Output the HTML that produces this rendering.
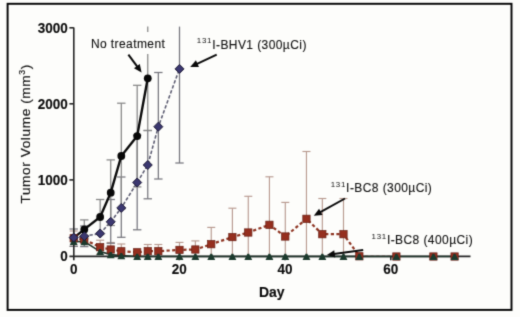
<!DOCTYPE html><html><head><meta charset="utf-8"><style>
html,body{margin:0;padding:0;background:#fdfdfb;}svg{display:block;}
text{font-family:"Liberation Sans",sans-serif;}
</style></head><body>
<svg width="520" height="317" viewBox="0 0 520 317">
<defs><filter id="b" filterUnits="userSpaceOnUse" x="0" y="0" width="520" height="317" color-interpolation-filters="sRGB"><feConvolveMatrix order="3" kernelMatrix="0.0367 0.1915 0.0367 0.1915 1.0000 0.1915 0.0367 0.1915 0.0367" edgeMode="duplicate"/></filter></defs>
<rect x="0" y="0" width="520" height="317" fill="#fdfdfb"/>
<g filter="url(#b)">
<rect x="7.6" y="3.8" width="503.9" height="306.1" fill="none" stroke="#050505" stroke-width="1.95"/>
<line x1="73.7" y1="231.0" x2="73.7" y2="246.3" stroke="#b89a90" stroke-width="1.15"/>
<line x1="69.7" y1="231.0" x2="77.7" y2="231.0" stroke="#b89a90" stroke-width="1.15"/>
<line x1="69.7" y1="246.3" x2="77.7" y2="246.3" stroke="#b89a90" stroke-width="1.15"/>
<line x1="100.15" y1="240.2" x2="100.15" y2="254.2" stroke="#b89a90" stroke-width="1.15"/>
<line x1="96.15" y1="240.2" x2="104.15" y2="240.2" stroke="#b89a90" stroke-width="1.15"/>
<line x1="96.15" y1="254.2" x2="104.15" y2="254.2" stroke="#b89a90" stroke-width="1.15"/>
<line x1="110.73" y1="242.5" x2="110.73" y2="256.4" stroke="#b89a90" stroke-width="1.15"/>
<line x1="106.73" y1="242.5" x2="114.73" y2="242.5" stroke="#b89a90" stroke-width="1.15"/>
<line x1="121.31" y1="244.0" x2="121.31" y2="256.4" stroke="#b89a90" stroke-width="1.15"/>
<line x1="117.31" y1="244.0" x2="125.31" y2="244.0" stroke="#b89a90" stroke-width="1.15"/>
<line x1="147.76" y1="244.5" x2="147.76" y2="256.4" stroke="#b89a90" stroke-width="1.15"/>
<line x1="143.76" y1="244.5" x2="151.76" y2="244.5" stroke="#b89a90" stroke-width="1.15"/>
<line x1="158.34" y1="244.5" x2="158.34" y2="256.4" stroke="#b89a90" stroke-width="1.15"/>
<line x1="154.34" y1="244.5" x2="162.34" y2="244.5" stroke="#b89a90" stroke-width="1.15"/>
<line x1="179.5" y1="242.4" x2="179.5" y2="256.4" stroke="#b89a90" stroke-width="1.15"/>
<line x1="175.5" y1="242.4" x2="183.5" y2="242.4" stroke="#b89a90" stroke-width="1.15"/>
<line x1="195.37" y1="240.9" x2="195.37" y2="256.4" stroke="#b89a90" stroke-width="1.15"/>
<line x1="191.37" y1="240.9" x2="199.37" y2="240.9" stroke="#b89a90" stroke-width="1.15"/>
<line x1="211.24" y1="227.4" x2="211.24" y2="256.4" stroke="#b89a90" stroke-width="1.15"/>
<line x1="207.24" y1="227.4" x2="215.24" y2="227.4" stroke="#b89a90" stroke-width="1.15"/>
<line x1="232.4" y1="208.2" x2="232.4" y2="256.4" stroke="#b89a90" stroke-width="1.15"/>
<line x1="228.4" y1="208.2" x2="236.4" y2="208.2" stroke="#b89a90" stroke-width="1.15"/>
<line x1="248.27" y1="196.3" x2="248.27" y2="256.4" stroke="#b89a90" stroke-width="1.15"/>
<line x1="244.27" y1="196.3" x2="252.27" y2="196.3" stroke="#b89a90" stroke-width="1.15"/>
<line x1="269.43" y1="176.8" x2="269.43" y2="256.4" stroke="#b89a90" stroke-width="1.15"/>
<line x1="265.43" y1="176.8" x2="273.43" y2="176.8" stroke="#b89a90" stroke-width="1.15"/>
<line x1="285.3" y1="202.4" x2="285.3" y2="256.4" stroke="#b89a90" stroke-width="1.15"/>
<line x1="281.3" y1="202.4" x2="289.3" y2="202.4" stroke="#b89a90" stroke-width="1.15"/>
<line x1="306.46" y1="151.5" x2="306.46" y2="256.4" stroke="#b89a90" stroke-width="1.15"/>
<line x1="302.46" y1="151.5" x2="310.46" y2="151.5" stroke="#b89a90" stroke-width="1.15"/>
<line x1="322.33" y1="198.5" x2="322.33" y2="256.4" stroke="#b89a90" stroke-width="1.15"/>
<line x1="318.33" y1="198.5" x2="326.33" y2="198.5" stroke="#b89a90" stroke-width="1.15"/>
<line x1="343.49" y1="198.5" x2="343.49" y2="256.4" stroke="#b89a90" stroke-width="1.15"/>
<line x1="339.49" y1="198.5" x2="347.49" y2="198.5" stroke="#b89a90" stroke-width="1.15"/>
<line x1="73.7" y1="229.0" x2="73.7" y2="246.3" stroke="#76767e" stroke-width="1.25"/>
<line x1="69.5" y1="229.0" x2="77.9" y2="229.0" stroke="#76767e" stroke-width="1.25"/>
<line x1="69.5" y1="246.3" x2="77.9" y2="246.3" stroke="#76767e" stroke-width="1.25"/>
<line x1="84.28" y1="226.0" x2="84.28" y2="246.6" stroke="#76767e" stroke-width="1.25"/>
<line x1="80.08" y1="226.0" x2="88.48" y2="226.0" stroke="#76767e" stroke-width="1.25"/>
<line x1="80.08" y1="246.6" x2="88.48" y2="246.6" stroke="#76767e" stroke-width="1.25"/>
<line x1="110.73" y1="199.5" x2="110.73" y2="243.3" stroke="#76767e" stroke-width="1.25"/>
<line x1="106.53" y1="199.5" x2="114.93" y2="199.5" stroke="#76767e" stroke-width="1.25"/>
<line x1="106.53" y1="243.3" x2="114.93" y2="243.3" stroke="#76767e" stroke-width="1.25"/>
<line x1="121.31" y1="177.0" x2="121.31" y2="237.3" stroke="#76767e" stroke-width="1.25"/>
<line x1="117.11" y1="177.0" x2="125.51" y2="177.0" stroke="#76767e" stroke-width="1.25"/>
<line x1="117.11" y1="237.3" x2="125.51" y2="237.3" stroke="#76767e" stroke-width="1.25"/>
<line x1="137.18" y1="135.2" x2="137.18" y2="229.8" stroke="#76767e" stroke-width="1.25"/>
<line x1="132.98000000000002" y1="135.2" x2="141.38" y2="135.2" stroke="#76767e" stroke-width="1.25"/>
<line x1="132.98000000000002" y1="229.8" x2="141.38" y2="229.8" stroke="#76767e" stroke-width="1.25"/>
<line x1="147.76" y1="130.5" x2="147.76" y2="198.8" stroke="#76767e" stroke-width="1.25"/>
<line x1="143.56" y1="130.5" x2="151.95999999999998" y2="130.5" stroke="#76767e" stroke-width="1.25"/>
<line x1="143.56" y1="198.8" x2="151.95999999999998" y2="198.8" stroke="#76767e" stroke-width="1.25"/>
<line x1="158.34" y1="72.5" x2="158.34" y2="179.0" stroke="#76767e" stroke-width="1.25"/>
<line x1="154.14000000000001" y1="72.5" x2="162.54" y2="72.5" stroke="#76767e" stroke-width="1.25"/>
<line x1="154.14000000000001" y1="179.0" x2="162.54" y2="179.0" stroke="#76767e" stroke-width="1.25"/>
<line x1="179.5" y1="26.6" x2="179.5" y2="163.0" stroke="#76767e" stroke-width="1.25"/>
<line x1="175.3" y1="163.0" x2="183.7" y2="163.0" stroke="#76767e" stroke-width="1.25"/>
<line x1="84.28" y1="219.9" x2="84.28" y2="238.9" stroke="#868686" stroke-width="1.25"/>
<line x1="80.08" y1="219.9" x2="88.48" y2="219.9" stroke="#868686" stroke-width="1.25"/>
<line x1="80.08" y1="238.9" x2="88.48" y2="238.9" stroke="#868686" stroke-width="1.25"/>
<line x1="100.15" y1="199.5" x2="100.15" y2="234.5" stroke="#868686" stroke-width="1.25"/>
<line x1="95.95" y1="199.5" x2="104.35000000000001" y2="199.5" stroke="#868686" stroke-width="1.25"/>
<line x1="95.95" y1="234.5" x2="104.35000000000001" y2="234.5" stroke="#868686" stroke-width="1.25"/>
<line x1="110.73" y1="159.9" x2="110.73" y2="225.5" stroke="#868686" stroke-width="1.25"/>
<line x1="106.53" y1="159.9" x2="114.93" y2="159.9" stroke="#868686" stroke-width="1.25"/>
<line x1="106.53" y1="225.5" x2="114.93" y2="225.5" stroke="#868686" stroke-width="1.25"/>
<line x1="121.31" y1="103.2" x2="121.31" y2="208.8" stroke="#868686" stroke-width="1.25"/>
<line x1="117.11" y1="103.2" x2="125.51" y2="103.2" stroke="#868686" stroke-width="1.25"/>
<line x1="117.11" y1="208.8" x2="125.51" y2="208.8" stroke="#868686" stroke-width="1.25"/>
<line x1="137.18" y1="85.3" x2="137.18" y2="186.9" stroke="#868686" stroke-width="1.25"/>
<line x1="132.98000000000002" y1="85.3" x2="141.38" y2="85.3" stroke="#868686" stroke-width="1.25"/>
<line x1="132.98000000000002" y1="186.9" x2="141.38" y2="186.9" stroke="#868686" stroke-width="1.25"/>
<line x1="147.76" y1="26.6" x2="147.76" y2="130.5" stroke="#868686" stroke-width="1.25"/>
<line x1="143.56" y1="130.5" x2="151.95999999999998" y2="130.5" stroke="#868686" stroke-width="1.25"/>
<rect x="90" y="32" width="76" height="22" fill="#fdfdfb"/>
<g stroke="#262626" stroke-width="1.6" fill="none">
<line x1="73.8" y1="27.4" x2="73.8" y2="260.2"/>
<line x1="69.4" y1="256.4" x2="470.5" y2="256.4"/>
<line x1="69.4" y1="27.8" x2="73.8" y2="27.8"/>
<line x1="69.4" y1="103.8" x2="73.8" y2="103.8"/>
<line x1="69.4" y1="179.9" x2="73.8" y2="179.9"/>
<line x1="179.2" y1="256.4" x2="179.2" y2="260.2"/>
<line x1="285.0" y1="256.4" x2="285.0" y2="260.2"/>
<line x1="390.8" y1="256.4" x2="390.8" y2="260.2"/>
</g>
<polyline points="73.7,238.3 84.28,239.5 100.15,247.2 110.73,249.5 121.31,251.3 137.18,252.3 147.76,251.2 158.34,251.2 179.5,249.9 195.37,249.5 211.24,244.2 232.4,237.1 248.27,232.5 269.43,224.8 285.3,236.5 306.46,218.8 322.33,234.2 343.49,234.2 359.36,256.3" fill="none" stroke="#8e3422" stroke-width="2.2" stroke-dasharray="3.2,2.4"/>
<polyline points="359.36,256.3 396.39,256.5 433.42,256.5 454.58,256.5" fill="none" stroke="#6e3020" stroke-width="1.2" stroke-dasharray="3.2,2.4"/>
<polyline points="73.7,241.5 84.28,241.6 100.15,251.6 110.73,254.6 121.31,255.6 137.18,256.5 147.76,256.5 158.34,256.5 179.5,256.5 195.37,256.5 211.24,256.5 232.4,256.5 248.27,256.5 269.43,256.5 285.3,256.5 306.46,256.5 322.33,256.5 343.49,256.5 359.36,256.5 396.39,256.5 433.42,256.5 454.58,256.5" fill="none" stroke="#1e3329" stroke-width="1.6"/>
<polyline points="73.7,237.6 84.28,236.2 100.15,233.5 110.73,221.8 121.31,207.9 137.18,182.5 147.76,165.0 158.34,126.7 179.5,68.9" fill="none" stroke="#5a5a70" stroke-width="1.55" stroke-dasharray="3.4,1.9"/>
<polyline points="73.7,237.9 84.28,229.4 100.15,217.0 110.73,192.7 121.31,156.0 137.18,136.1 147.76,78.3" fill="none" stroke="#0a0a0a" stroke-width="2.4"/>
<circle cx="73.7" cy="237.9" r="3.9" fill="#080808"/>
<circle cx="84.28" cy="229.4" r="3.9" fill="#080808"/>
<circle cx="100.15" cy="217.0" r="3.9" fill="#080808"/>
<circle cx="110.73" cy="192.7" r="3.9" fill="#080808"/>
<circle cx="121.31" cy="156.0" r="3.9" fill="#080808"/>
<circle cx="137.18" cy="136.1" r="3.9" fill="#080808"/>
<circle cx="147.76" cy="78.3" r="3.9" fill="#080808"/>
<rect x="70.05" y="234.65" width="7.3" height="7.3" fill="#952f1f" stroke="#661d12" stroke-width="0.7"/>
<rect x="80.63" y="235.85" width="7.3" height="7.3" fill="#952f1f" stroke="#661d12" stroke-width="0.7"/>
<rect x="96.50" y="243.55" width="7.3" height="7.3" fill="#952f1f" stroke="#661d12" stroke-width="0.7"/>
<rect x="107.08" y="245.85" width="7.3" height="7.3" fill="#952f1f" stroke="#661d12" stroke-width="0.7"/>
<rect x="117.66" y="247.65" width="7.3" height="7.3" fill="#952f1f" stroke="#661d12" stroke-width="0.7"/>
<rect x="133.53" y="248.65" width="7.3" height="7.3" fill="#952f1f" stroke="#661d12" stroke-width="0.7"/>
<rect x="144.11" y="247.55" width="7.3" height="7.3" fill="#952f1f" stroke="#661d12" stroke-width="0.7"/>
<rect x="154.69" y="247.55" width="7.3" height="7.3" fill="#952f1f" stroke="#661d12" stroke-width="0.7"/>
<rect x="175.85" y="246.25" width="7.3" height="7.3" fill="#952f1f" stroke="#661d12" stroke-width="0.7"/>
<rect x="191.72" y="245.85" width="7.3" height="7.3" fill="#952f1f" stroke="#661d12" stroke-width="0.7"/>
<rect x="207.59" y="240.55" width="7.3" height="7.3" fill="#952f1f" stroke="#661d12" stroke-width="0.7"/>
<rect x="228.75" y="233.45" width="7.3" height="7.3" fill="#952f1f" stroke="#661d12" stroke-width="0.7"/>
<rect x="244.62" y="228.85" width="7.3" height="7.3" fill="#952f1f" stroke="#661d12" stroke-width="0.7"/>
<rect x="265.78" y="221.15" width="7.3" height="7.3" fill="#952f1f" stroke="#661d12" stroke-width="0.7"/>
<rect x="281.65" y="232.85" width="7.3" height="7.3" fill="#952f1f" stroke="#661d12" stroke-width="0.7"/>
<rect x="302.81" y="215.15" width="7.3" height="7.3" fill="#952f1f" stroke="#661d12" stroke-width="0.7"/>
<rect x="318.68" y="230.55" width="7.3" height="7.3" fill="#952f1f" stroke="#661d12" stroke-width="0.7"/>
<rect x="339.84" y="230.55" width="7.3" height="7.3" fill="#952f1f" stroke="#661d12" stroke-width="0.7"/>
<rect x="355.71" y="252.65" width="7.3" height="7.3" fill="#952f1f" stroke="#661d12" stroke-width="0.7"/>
<rect x="392.74" y="252.85" width="7.3" height="7.3" fill="#952f1f" stroke="#661d12" stroke-width="0.7"/>
<rect x="429.77" y="252.85" width="7.3" height="7.3" fill="#952f1f" stroke="#661d12" stroke-width="0.7"/>
<rect x="450.93" y="252.85" width="7.3" height="7.3" fill="#952f1f" stroke="#661d12" stroke-width="0.7"/>
<path d="M72.80,238.80 L74.60,238.80 L77.60,245.10 L69.80,245.10 Z" fill="#1c3a2d"/>
<path d="M83.38,238.90 L85.18,238.90 L88.18,245.20 L80.38,245.20 Z" fill="#1c3a2d"/>
<path d="M99.25,248.90 L101.05,248.90 L104.05,255.20 L96.25,255.20 Z" fill="#1c3a2d"/>
<path d="M109.83,251.90 L111.63,251.90 L114.63,258.20 L106.83,258.20 Z" fill="#1c3a2d"/>
<path d="M120.41,252.90 L122.21,252.90 L125.21,259.20 L117.41,259.20 Z" fill="#1c3a2d"/>
<path d="M136.28,253.80 L138.08,253.80 L141.08,260.10 L133.28,260.10 Z" fill="#1c3a2d"/>
<path d="M146.86,253.80 L148.66,253.80 L151.66,260.10 L143.86,260.10 Z" fill="#1c3a2d"/>
<path d="M157.44,253.80 L159.24,253.80 L162.24,260.10 L154.44,260.10 Z" fill="#1c3a2d"/>
<path d="M178.60,253.80 L180.40,253.80 L183.40,260.10 L175.60,260.10 Z" fill="#1c3a2d"/>
<path d="M194.47,253.80 L196.27,253.80 L199.27,260.10 L191.47,260.10 Z" fill="#1c3a2d"/>
<path d="M210.34,253.80 L212.14,253.80 L215.14,260.10 L207.34,260.10 Z" fill="#1c3a2d"/>
<path d="M231.50,253.80 L233.30,253.80 L236.30,260.10 L228.50,260.10 Z" fill="#1c3a2d"/>
<path d="M247.37,253.80 L249.17,253.80 L252.17,260.10 L244.37,260.10 Z" fill="#1c3a2d"/>
<path d="M268.53,253.80 L270.33,253.80 L273.33,260.10 L265.53,260.10 Z" fill="#1c3a2d"/>
<path d="M284.40,253.80 L286.20,253.80 L289.20,260.10 L281.40,260.10 Z" fill="#1c3a2d"/>
<path d="M305.56,253.80 L307.36,253.80 L310.36,260.10 L302.56,260.10 Z" fill="#1c3a2d"/>
<path d="M321.43,253.80 L323.23,253.80 L326.23,260.10 L318.43,260.10 Z" fill="#1c3a2d"/>
<path d="M342.59,253.80 L344.39,253.80 L347.39,260.10 L339.59,260.10 Z" fill="#1c3a2d"/>
<path d="M358.46,253.80 L360.26,253.80 L363.26,260.10 L355.46,260.10 Z" fill="#1c3a2d"/>
<path d="M395.49,253.80 L397.29,253.80 L400.29,260.10 L392.49,260.10 Z" fill="#1c3a2d"/>
<path d="M432.52,253.80 L434.32,253.80 L437.32,260.10 L429.52,260.10 Z" fill="#1c3a2d"/>
<path d="M453.68,253.80 L455.48,253.80 L458.48,260.10 L450.68,260.10 Z" fill="#1c3a2d"/>
<path d="M73.70,233.10 L78.20,237.60 L73.70,242.10 L69.20,237.60 Z" fill="#3c3870" stroke="#1c1834" stroke-width="1.0"/>
<path d="M84.28,231.70 L88.78,236.20 L84.28,240.70 L79.78,236.20 Z" fill="#3c3870" stroke="#1c1834" stroke-width="1.0"/>
<path d="M100.15,229.00 L104.65,233.50 L100.15,238.00 L95.65,233.50 Z" fill="#3c3870" stroke="#1c1834" stroke-width="1.0"/>
<path d="M110.73,217.30 L115.23,221.80 L110.73,226.30 L106.23,221.80 Z" fill="#3c3870" stroke="#1c1834" stroke-width="1.0"/>
<path d="M121.31,203.40 L125.81,207.90 L121.31,212.40 L116.81,207.90 Z" fill="#3c3870" stroke="#1c1834" stroke-width="1.0"/>
<path d="M137.18,178.00 L141.68,182.50 L137.18,187.00 L132.68,182.50 Z" fill="#3c3870" stroke="#1c1834" stroke-width="1.0"/>
<path d="M147.76,160.50 L152.26,165.00 L147.76,169.50 L143.26,165.00 Z" fill="#3c3870" stroke="#1c1834" stroke-width="1.0"/>
<path d="M158.34,122.20 L162.84,126.70 L158.34,131.20 L153.84,126.70 Z" fill="#3c3870" stroke="#1c1834" stroke-width="1.0"/>
<path d="M179.50,64.40 L184.00,68.90 L179.50,73.40 L175.00,68.90 Z" fill="#3c3870" stroke="#1c1834" stroke-width="1.0"/>
<g font-size="13.5" font-weight="bold" fill="#0c0c0c" stroke="#0c0c0c" stroke-width="0.12" text-anchor="end">
<text transform="translate(67.8,32.70) scale(1,1.11)">3000</text>
<text transform="translate(67.8,108.70) scale(1,1.11)">2000</text>
<text transform="translate(67.8,184.80) scale(1,1.11)">1000</text>
<text transform="translate(67.8,261.30) scale(1,1.11)">0</text>
</g>
<g font-size="13.5" font-weight="bold" fill="#0c0c0c" stroke="#0c0c0c" stroke-width="0.12" text-anchor="middle">
<text transform="translate(73.8,274.1) scale(1,1.09)">0</text>
<text transform="translate(179.2,274.1) scale(1,1.09)">20</text>
<text transform="translate(285.0,274.1) scale(1,1.09)">40</text>
<text transform="translate(390.8,274.1) scale(1,1.09)">60</text>
</g>
<text transform="translate(271.8,296.8) scale(1,1.08)" font-size="14" font-weight="bold" fill="#0c0c0c" stroke="#0c0c0c" stroke-width="0.12" text-anchor="middle">Day</text>
<text transform="translate(29.8,133.8) rotate(-90)" font-size="13.6" letter-spacing="0.62" fill="#141414" stroke="#141414" stroke-width="0.18" text-anchor="middle">Tumor Volume (mm<tspan font-size="8.8" dy="-5.2">3</tspan><tspan dy="5.2">)</tspan></text>
<text transform="translate(90.9,47.6) " font-size="12" letter-spacing="0.42" fill="#121212" stroke="#121212" stroke-width="0.12">No treatment</text>
<text transform="translate(196.8,48.6) " font-size="12" letter-spacing="0.42" fill="#121212" stroke="#121212" stroke-width="0.12"><tspan font-size="7.9" dy="-5.3" letter-spacing="0.75" stroke-width="0">131</tspan><tspan dy="5.3">I-BHV1 (300µCi)</tspan></text>
<text transform="translate(330.7,192.2) " font-size="12" letter-spacing="0.42" fill="#121212" stroke="#121212" stroke-width="0.12"><tspan font-size="7.9" dy="-5.3" letter-spacing="0.75" stroke-width="0">131</tspan><tspan dy="5.3">I-BC8 (300µCi)</tspan></text>
<text transform="translate(371.5,244.4) " font-size="12" letter-spacing="0.42" fill="#121212" stroke="#121212" stroke-width="0.12"><tspan font-size="7.9" dy="-5.3" letter-spacing="0.75" stroke-width="0">131</tspan><tspan dy="5.3">I-BC8 (400µCi)</tspan></text>
<line x1="128.4" y1="54.6" x2="137.46" y2="66.96" stroke="#0a0a0a" stroke-width="2.0"/>
<path d="M141.60,72.60 L133.97,68.28 L139.77,64.02 Z" fill="#0a0a0a"/>
<line x1="216.7" y1="54.7" x2="196.55" y2="64.05" stroke="#0a0a0a" stroke-width="2.0"/>
<path d="M190.20,67.00 L195.94,60.37 L198.97,66.90 Z" fill="#0a0a0a"/>
<line x1="345.0" y1="198.5" x2="319.92" y2="212.41" stroke="#0a0a0a" stroke-width="2.0"/>
<path d="M313.80,215.80 L319.05,208.77 L322.54,215.07 Z" fill="#0a0a0a"/>
<line x1="363.2" y1="249.9" x2="333.73" y2="253.95" stroke="#0a0a0a" stroke-width="2.0"/>
<path d="M326.80,254.90 L334.24,250.24 L335.22,257.38 Z" fill="#0a0a0a"/>
</g></svg></body></html>
